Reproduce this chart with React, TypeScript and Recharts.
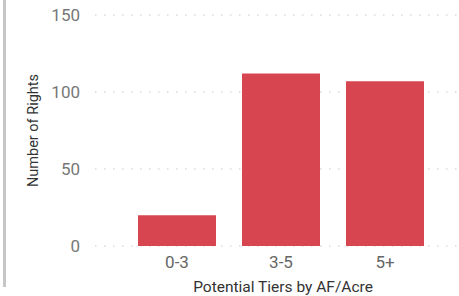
import { BarChart, Bar, XAxis, YAxis, CartesianGrid } from "recharts";

const TIERS = ["0-3", "3-5", "5+"];
const RIGHTS = [20, 112, 107];
const Y_TICKS = [0, 50, 100, 150];

const data = TIERS.map((tier, i) => ({ tier, rights: RIGHTS[i] }));

const FONT = "'Segoe UI', Roboto, 'Noto Sans', sans-serif";

function YTitle({ viewBox }: any) {
  const cx = viewBox.x + 33;
  const cy = viewBox.y + viewBox.height / 2;
  return (
    <text
      x={cx}
      y={cy}
      transform={`rotate(-90 ${cx} ${cy})`}
      textAnchor="middle"
      dominantBaseline="central"
      fill="#333333"
      fontSize={14.5}
      fontFamily={FONT}
    >
      Number of Rights
    </text>
  );
}

export default function App() {
  return (
    <div style={{ position: "absolute", left: 0, top: 0, width: 459, height: 296, background: "#fff" }}>
      <div style={{ position: "absolute", left: 3, top: 0, width: 3, height: 287, background: "#c6c6c6" }} />
      <BarChart
        width={459}
        height={296}
        data={data}
        margin={{ top: 15, right: 0, bottom: 0, left: 0 }}
        barCategoryGap="12.5%"
      >
        <CartesianGrid vertical={false} stroke="#c8c8c8" strokeDasharray="1.5 7.5" />
        <XAxis
          dataKey="tier"
          height={50}
          padding={{ left: 30, right: 22 }}
          axisLine={false}
          tickLine={false}
          tickMargin={4}
          tick={{ fill: "#666666", fontSize: 17, fontFamily: FONT }}
          label={{
            value: "Potential Tiers by AF/Acre",
            position: "insideBottom",
            offset: 4,
            dx: 6,
            fill: "#333333",
            fontSize: 15.5,
            fontFamily: FONT,
          }}
        />
        <YAxis
          width={95}
          domain={[0, 150]}
          ticks={Y_TICKS}
          axisLine={false}
          tickLine={false}
          tickMargin={9}
          tick={{ fill: "#777777", fontSize: 17, fontFamily: FONT }}
          label={<YTitle />}
        />
        <Bar dataKey="rights" fill="#d64550" isAnimationActive={false} />
      </BarChart>
    </div>
  );
}
